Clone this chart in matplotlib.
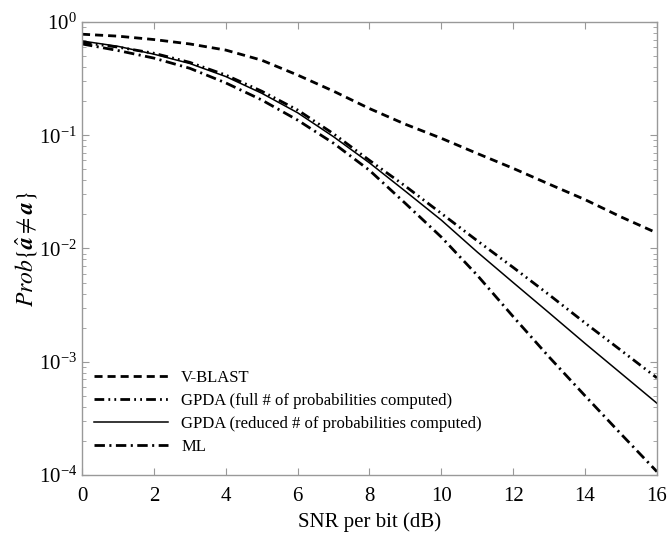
import numpy as np
import matplotlib
matplotlib.use('Agg')
import matplotlib.pyplot as plt
from matplotlib.ticker import LogLocator, NullFormatter

plt.rcParams['font.family'] = 'Liberation Serif'
plt.rcParams['mathtext.fontset'] = 'stix'
plt.rcParams['lines.scale_dashes'] = False

snr = np.arange(0, 17)

vblast = [0.78, 0.75, 0.70, 0.64, 0.565, 0.46, 0.34, 0.245, 0.172, 0.125, 0.094,
          0.069, 0.051, 0.037, 0.027, 0.019, 0.0137]
gpda_full = [0.66, 0.60, 0.53, 0.44, 0.34, 0.245, 0.167, 0.103, 0.060, 0.0355,
             0.0204, 0.0117, 0.0068, 0.0039, 0.0022, 0.00126, 0.00072]
gpda_red = [0.68, 0.61, 0.52, 0.43, 0.33, 0.235, 0.158, 0.097, 0.057, 0.032,
            0.0178, 0.0093, 0.0050, 0.0027, 0.00145, 0.00079, 0.00043]
ml = [0.64, 0.56, 0.48, 0.39, 0.29, 0.205, 0.136, 0.085, 0.049, 0.025,
      0.0126, 0.0058, 0.0025, 0.0011, 0.0005, 0.00023, 0.000107]

labels = ['V-BLAST',
          'GPDA (full # of probabilities computed)',
          'GPDA (reduced # of probabilities computed)',
          'ML']

fig = plt.figure(figsize=(6.69, 5.34), dpi=100)
ax = fig.add_axes([0.1226, 0.1105, 0.8594, 0.8483])

ax.semilogy(snr, vblast, color='black', lw=2.0, dashes=(5.8, 3.6), label=labels[0])
ax.semilogy(snr, gpda_full, color='black', lw=2.0,
            dashes=(7, 3, 1.3, 3, 1.3, 3), label=labels[1])
ax.semilogy(snr, gpda_red, color='black', lw=1.1, label=labels[2])
ax.semilogy(snr, ml, color='black', lw=2.0,
            dashes=(7.5, 3.2, 1.5, 3.2), label=labels[3])

ax.set_xlim(0, 16)
ax.set_ylim(1e-4, 1)
ax.set_xticks(np.arange(0, 17, 2))
ax.yaxis.set_major_locator(LogLocator(base=10, numticks=10))
ax.yaxis.set_minor_locator(LogLocator(base=10, subs=np.arange(2, 10), numticks=10))
ax.yaxis.set_minor_formatter(NullFormatter())

for s in ax.spines.values():
    s.set_color('#999999')
    s.set_linewidth(1.0)
ax.tick_params(which='both', direction='in', top=True, right=True, color='#999999',
               labelsize=15)
ax.tick_params(which='major', length=5)
ax.tick_params(which='minor', length=3)
ax.tick_params(axis='x', pad=9)

ax.set_xlabel('SNR per bit (dB)', fontsize=15)
ax.set_ylabel(r'$Prob\{\hat{\boldsymbol{a}}\neq\boldsymbol{a}\}$', fontsize=17, labelpad=0)

leg = ax.legend(loc='lower left', bbox_to_anchor=(0.01, 0.03), frameon=False,
                fontsize=12, handlelength=4.4, handletextpad=0.8,
                labelspacing=0.42, borderaxespad=0)

fig.savefig('out.png', dpi=100)
